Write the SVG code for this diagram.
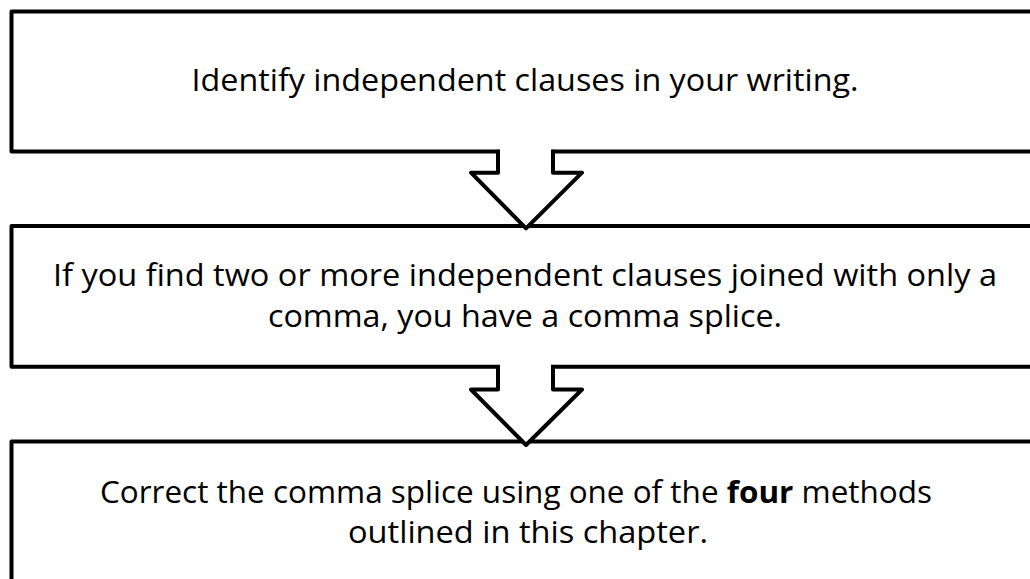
<svg xmlns="http://www.w3.org/2000/svg" width="1030" height="579" viewBox="0 0 1030 579">
  <style>
    .box { fill: #ffffff; stroke: #000000; stroke-width: 4; stroke-linejoin: round; }
    .arrow { fill: #ffffff; stroke: #000000; stroke-width: 4; stroke-linejoin: round; stroke-linecap: round; }
    .gap { fill: #ffffff; stroke: none; }
    .label { font-family: "Open Sans", "Liberation Sans", sans-serif; font-size: 31px; fill: #000000; text-anchor: middle; }
  </style>
  <rect x="0" y="0" width="1030" height="579" fill="#ffffff"/>
  <g id="node-1">
    <rect class="box" x="11.5" y="11.5" width="1040" height="140"/>
    <text class="label" x="525" y="91" textLength="667" lengthAdjust="spacingAndGlyphs">Identify independent clauses in your writing.</text>
  </g>
  <g id="node-2">
    <rect class="box" x="11.5" y="226" width="1040" height="140.7"/>
    <text class="label" x="525" y="286" textLength="944" lengthAdjust="spacingAndGlyphs">If you find two or more independent clauses joined with only a</text>
    <text class="label" x="525" y="327" textLength="514" lengthAdjust="spacingAndGlyphs">comma, you have a comma splice.</text>
  </g>
  <g id="node-3">
    <rect class="box" x="11.5" y="441.5" width="1040" height="200"/>
    <text class="label" x="516" y="503" textLength="832" lengthAdjust="spacingAndGlyphs">Correct the comma splice using one of the <tspan font-weight="bold">four</tspan> methods</text>
    <text class="label" x="528" y="543" textLength="360" lengthAdjust="spacingAndGlyphs">outlined in this chapter.</text>
  </g>
  <g id="connectors">
    <g id="arrow-1-2">
      <rect class="gap" x="500" y="148.5" width="51" height="6"/>
      <path class="arrow" d="M498,151.5 V172.7 H471 L526,228.3 L582,172.7 H553 V151.5"/>
    </g>
    <g id="arrow-2-3">
      <rect class="gap" x="500" y="363.7" width="51" height="6"/>
      <path class="arrow" d="M498,366.7 V389.5 H471 L526,445 L582,389.5 H553 V366.7"/>
    </g>
  </g>
</svg>
